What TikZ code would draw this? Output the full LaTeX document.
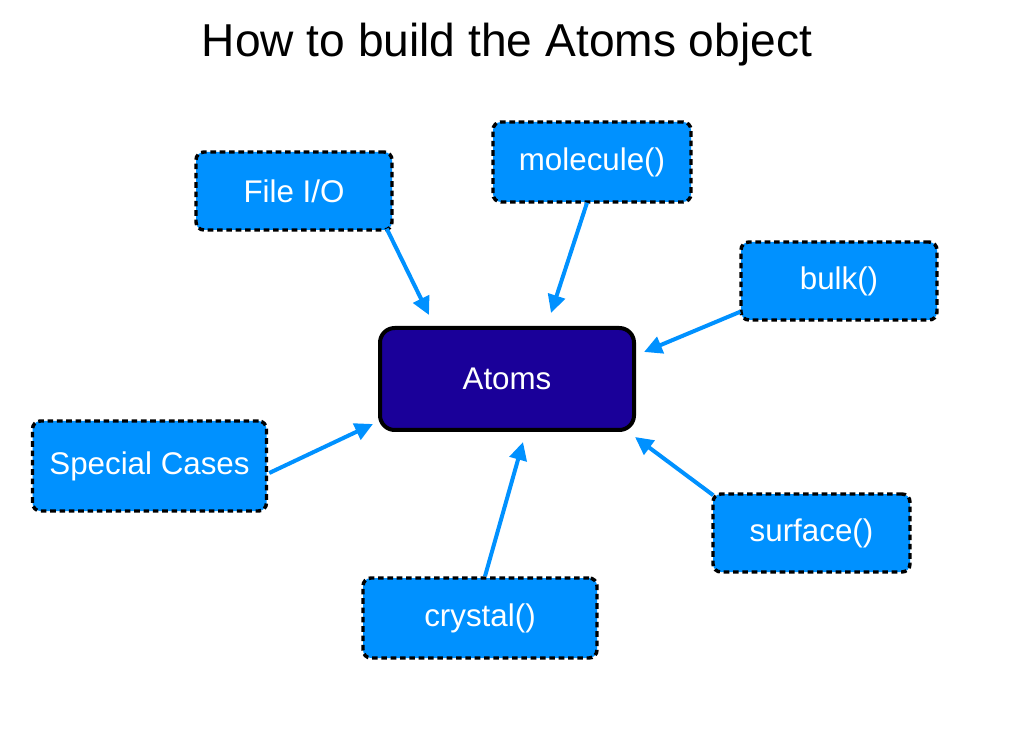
\documentclass[tikz,border=0pt]{standalone}
\usepackage{fontspec}
\setmainfont{Liberation Sans}
\usetikzlibrary{arrows.meta,calc}
\definecolor{boxblue}{RGB}{0,145,255}
\definecolor{atomsnavy}{RGB}{26,0,153}
\tikzset{
  srcbox/.style={draw=black, fill=boxblue, line width=2.6pt, dash pattern=on 4.2pt off 2.8pt,
    rounded corners=6pt, text=white, inner sep=0pt, font=\fontsize{23.5pt}{27pt}\selectfont},
  atomsbox/.style={draw=black, fill=atomsnavy, line width=3pt, rounded corners=11pt,
    text=white, inner sep=0pt, minimum width=190.5pt, minimum height=76.5pt,
    font=\fontsize{23.5pt}{27pt}\selectfont},
  feed/.style={draw=boxblue, line width=3pt, -{Triangle[length=13.5pt,width=13pt]}},
}
\begin{document}
\begin{tikzpicture}[x=0.75pt,y=-0.75pt]
\useasboundingbox (0,0) rectangle (1014,748);
\node[font=\fontsize{34.6pt}{40pt}\selectfont] (title) at (507,45) {How to build the Atoms object};
\node[atomsbox] (atoms) at (507,379) {Atoms};
\node[srcbox, minimum width=147pt, minimum height=58.5pt] (file) at (294,191) {File I/O};
\node[srcbox, minimum width=148.5pt, minimum height=60pt] (mol) at (592,162) {molecule()};
\node[srcbox, minimum width=147pt, minimum height=58.5pt] (bulk) at (839,281) {bulk()};
\node[srcbox, minimum width=175.5pt, minimum height=67.5pt] (special) at (149.5,466) {Special Cases};
\node[srcbox, minimum width=147.75pt, minimum height=58.5pt] (surface) at (811.5,533) {surface()};
\node[srcbox, minimum width=175.5pt, minimum height=60pt] (crystal) at (480,618) {crystal()};
% arrow tips near the Atoms box
\coordinate (tfile) at ($(atoms.north west)+(51,-11)$);
\coordinate (tmol) at ($(atoms.north)+(44,-13)$);
\coordinate (tbulk) at ($(atoms.north east)+(8,26)$);
\coordinate (tspecial) at ($(atoms.south west)+(-5,-8)$);
\coordinate (tsurface) at ($(atoms.south east)+(-1,5)$);
\coordinate (tcrystal) at ($(atoms.south)+(16,10)$);
\draw[feed] ($(file.south east)+(-7,-3)$) -- (tfile);
\draw[feed] ($(mol.south)+(-5,-1)$) -- (tmol);
\draw[feed] ($(bulk.south west)+(1,-10)$) -- (tbulk);
\draw[feed] ($(special.east)+(1,7)$) -- (tspecial);
\draw[feed] ($(surface.north west)+(2,3)$) -- (tsurface);
\draw[feed] ($(crystal.north)+(5,0)$) -- (tcrystal);
\end{tikzpicture}
\end{document}
